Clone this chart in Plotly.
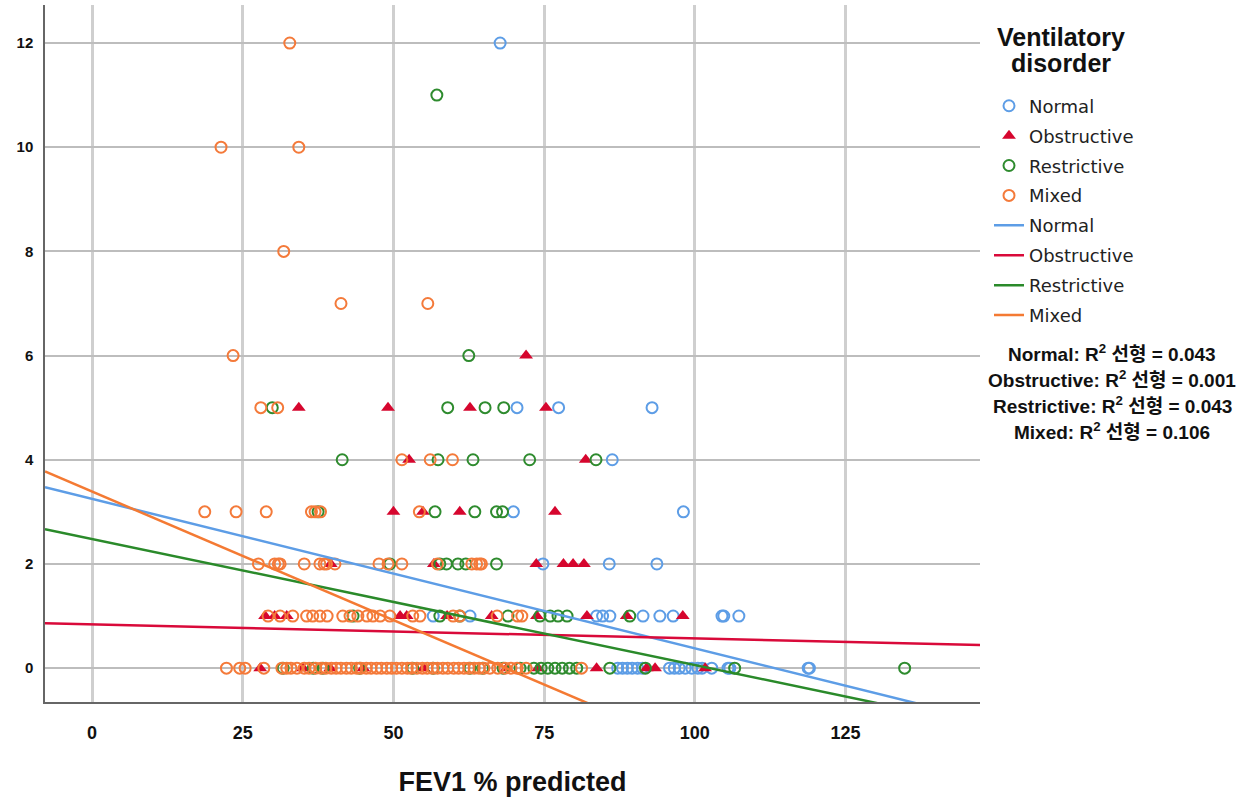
import plotly.graph_objects as go

# ---------------- data ----------------
groups = ["Normal", "Obstructive", "Restrictive", "Mixed"]

normal_x = [67.7,
            70.5, 77.4, 92.9,
            86.3,
            69.9, 98.1,
            74.8, 85.8, 93.7,
            56.6, 62.7, 83.7, 84.7, 85.9, 91.4, 94.2, 96.4, 104.5, 104.8, 107.3,
            87.2, 88.0, 88.8, 89.6, 90.5, 91.3, 95.8, 96.6, 97.4, 98.4, 99.5,
            100.5, 101.2, 102.8, 105.5, 105.8, 118.8, 119.0]
normal_y = [12,
            5, 5, 5,
            4,
            3, 3,
            2, 2, 2,
            1, 1, 1, 1, 1, 1, 1, 1, 1, 1, 1,
            0, 0, 0, 0, 0, 0, 0, 0, 0, 0, 0,
            0, 0, 0, 0, 0, 0, 0]

obstructive_x = [72.0,
                 34.3, 49.1, 62.7, 75.3,
                 52.6, 81.9,
                 50.0, 54.9, 61.0, 76.8,
                 39.6, 56.7, 73.7, 78.2, 79.8, 81.6,
                 28.7, 30.3, 32.3, 51.1, 52.2, 58.9, 66.3, 73.8, 82.1, 88.7, 98.0,
                 27.9, 35.0, 39.5, 45.0, 55.0, 68.8, 74.0, 83.7, 92.0, 93.4, 101.7]
obstructive_y = [6,
                 5, 5, 5, 5,
                 4, 4,
                 3, 3, 3, 3,
                 2, 2, 2, 2, 2, 2,
                 1, 1, 1, 1, 1, 1, 1, 1, 1, 1, 1,
                 0, 0, 0, 0, 0, 0, 0, 0, 0, 0, 0]

restrictive_x = [57.2,
                 62.5,
                 29.9, 59.0, 65.2, 68.3,
                 41.5, 57.4, 63.2, 72.6, 83.6,
                 37.5, 56.9, 63.5, 67.1, 68.1,
                 49.4, 57.7, 58.8, 60.7, 62.0, 67.1,
                 43.3, 57.7, 61.0, 69.0, 74.3, 76.0, 77.3, 78.8, 89.2,
                 31.7, 36.7, 38.3, 44.4, 53.2, 56.6, 62.7, 64.8, 68.2, 71.0,
                 73.3, 74.5, 75.6, 76.8, 78.0, 79.2, 80.4, 85.9, 91.8, 106.6, 134.8]
restrictive_y = [11,
                 6,
                 5, 5, 5, 5,
                 4, 4, 4, 4, 4,
                 3, 3, 3, 3, 3,
                 2, 2, 2, 2, 2, 2,
                 1, 1, 1, 1, 1, 1, 1, 1, 1,
                 0, 0, 0, 0, 0, 0, 0, 0, 0, 0,
                 0, 0, 0, 0, 0, 0, 0, 0, 0, 0, 0]

mixed_x = [32.8,
           21.4, 34.3,
           31.8,
           41.3, 55.7,
           23.4,
           28.0, 30.8,
           51.4, 56.1, 59.8,
           18.7, 23.9, 28.9, 36.4, 37.0, 37.9, 54.3,
           27.6, 30.3, 30.9, 31.2, 35.2, 37.8, 38.5, 38.9, 40.3, 47.6, 49.1, 51.4,
           57.3, 63.0, 63.8, 64.3, 64.6,
           29.2, 31.2, 33.3, 35.6, 36.6, 37.8, 39.0, 41.6, 42.8, 44.1, 45.6, 46.6,
           47.8, 49.4, 53.2, 54.4, 59.9, 61.0, 67.2, 70.6, 71.3,
           22.3, 24.5, 25.4, 28.5, 31.5, 32.3, 33.0, 34.0, 35.2, 36.0, 37.1, 38.0,
           38.8, 39.7, 40.5, 41.3, 42.2, 43.0, 43.9, 44.6, 45.5, 46.3, 47.2, 48.0,
           48.9, 49.7, 50.5, 51.4, 52.3, 53.0, 53.9, 54.8, 55.6, 56.5, 57.3, 58.2,
           59.0, 60.0, 60.8, 61.7, 62.5, 63.4, 64.2, 65.0, 66.0, 67.3, 68.5, 69.5,
           70.5, 72.0, 81.2]
mixed_y = [12,
           10, 10,
           8,
           7, 7,
           6,
           5, 5,
           4, 4, 4,
           3, 3, 3, 3, 3, 3, 3,
           2, 2, 2, 2, 2, 2, 2, 2, 2, 2, 2, 2,
           2, 2, 2, 2, 2,
           1, 1, 1, 1, 1, 1, 1, 1, 1, 1, 1, 1,
           1, 1, 1, 1, 1, 1, 1, 1, 1,
           0, 0, 0, 0, 0, 0, 0, 0, 0, 0, 0, 0,
           0, 0, 0, 0, 0, 0, 0, 0, 0, 0, 0, 0,
           0, 0, 0, 0, 0, 0, 0, 0, 0, 0, 0, 0,
           0, 0, 0, 0, 0, 0, 0, 0, 0, 0, 0, 0,
           0, 0, 0]

# linear fit lines (intercept, slope) and R² labels
fit_intercepts = [3.25, 0.84, 2.48, 3.39]
fit_slopes = [-0.0287, -0.0027, -0.0242, -0.0494]
r2_values = ["0.043", "0.001", "0.043", "0.106"]

x_ticks = [0, 25, 50, 75, 100, 125]
y_ticks = [0, 2, 4, 6, 8, 10, 12]
x_range = [-7.8, 147.3]
y_range = [-0.65, 12.73]

# ---------------- styling ----------------
marker_colors = ["#5d9de6", "#d6062e", "#2e8b2e", "#f47a3a"]
line_colors = ["#5d9de6", "#d90a3a", "#2a8a2a", "#f47a33"]
symbols = ["circle-open", "triangle-up", "circle-open", "circle-open"]

xs = [normal_x, obstructive_x, restrictive_x, mixed_x]
ys = [normal_y, obstructive_y, restrictive_y, mixed_y]

fig = go.Figure()
for i, g in enumerate(groups):
    if symbols[i] == "circle-open":
        mk = dict(symbol="circle-open", size=11, color=marker_colors[i],
                  line=dict(width=2, color=marker_colors[i]))
    else:
        mk = dict(symbol="triangle-up", size=12, color=marker_colors[i],
                  line=dict(width=0))
    fig.add_trace(go.Scatter(x=xs[i], y=ys[i], mode="markers", name=g,
                             marker=mk, legendgroup="m" + g, cliponaxis=True))

for i, g in enumerate(groups):
    lx = [x_range[0], x_range[1]]
    ly = [fit_intercepts[i] + fit_slopes[i] * v for v in lx]
    fig.add_trace(go.Scatter(x=lx, y=ly, mode="lines", name=g,
                             line=dict(color=line_colors[i], width=2.5),
                             legendgroup="l" + g))

W, H = 1250, 797
L, R, T, B = 45, 270, 5, 91
pw, ph = W - L - R, H - T - B

def px_x(p):
    return (p - L) / pw

def px_y(p):
    return (H - B - p) / ph

fig.update_layout(
    width=W, height=H,
    margin=dict(l=L, r=R, t=T, b=B, pad=0),
    paper_bgcolor="white", plot_bgcolor="white",
    showlegend=True,
    legend=dict(x=px_x(989), y=px_y(88), xanchor="left", yanchor="top",
                font=dict(family="DejaVu Sans", size=18, color="#222222"),
                tracegroupgap=3.5, itemwidth=30, bgcolor="rgba(0,0,0,0)"),
    xaxis=dict(range=x_range, tickvals=x_ticks, showgrid=True,
               gridcolor="#cfcfcf", gridwidth=3, zeroline=False,
               showline=True, linecolor="#666666", linewidth=1.5,
               ticks="", ticklabelstandoff=14,
               tickfont=dict(family="Liberation Sans", size=18, color="#111111", weight="bold"),
               title=dict(text="FEV1 % predicted", standoff=30,
                          font=dict(family="Liberation Sans", size=27, color="#111111", weight="bold"))),
    yaxis=dict(range=y_range, tickvals=y_ticks, showgrid=True,
               gridcolor="#bdbdbd", gridwidth=2, zeroline=False,
               showline=True, linecolor="#666666", linewidth=1.5,
               ticks="", ticklabelstandoff=7,
               tickfont=dict(family="Liberation Sans", size=15, color="#111111", weight="bold")),
)

title_lines = ["Ventilatory", "disorder"]
title_py = [37, 63]
for t, p in zip(title_lines, title_py):
    fig.add_annotation(xref="paper", yref="paper", x=px_x(1061), y=px_y(p),
                       text=f"<b>{t}</b>", showarrow=False,
                       xanchor="center", yanchor="middle",
                       font=dict(family="Liberation Sans", size=25, color="#111111"))

r2_py = [355, 381, 407, 433]
for i, g in enumerate(groups):
    fig.add_annotation(xref="paper", yref="paper", x=px_x(1112), y=px_y(r2_py[i]),
                       text=f"<b>{g}: R<sup>2</sup> 선형 = {r2_values[i]}</b>",
                       showarrow=False, xanchor="center", yanchor="middle",
                       font=dict(family="Liberation Sans, Noto Sans CJK KR", size=19,
                                 color="#111111"))

fig.write_html("out.html")
